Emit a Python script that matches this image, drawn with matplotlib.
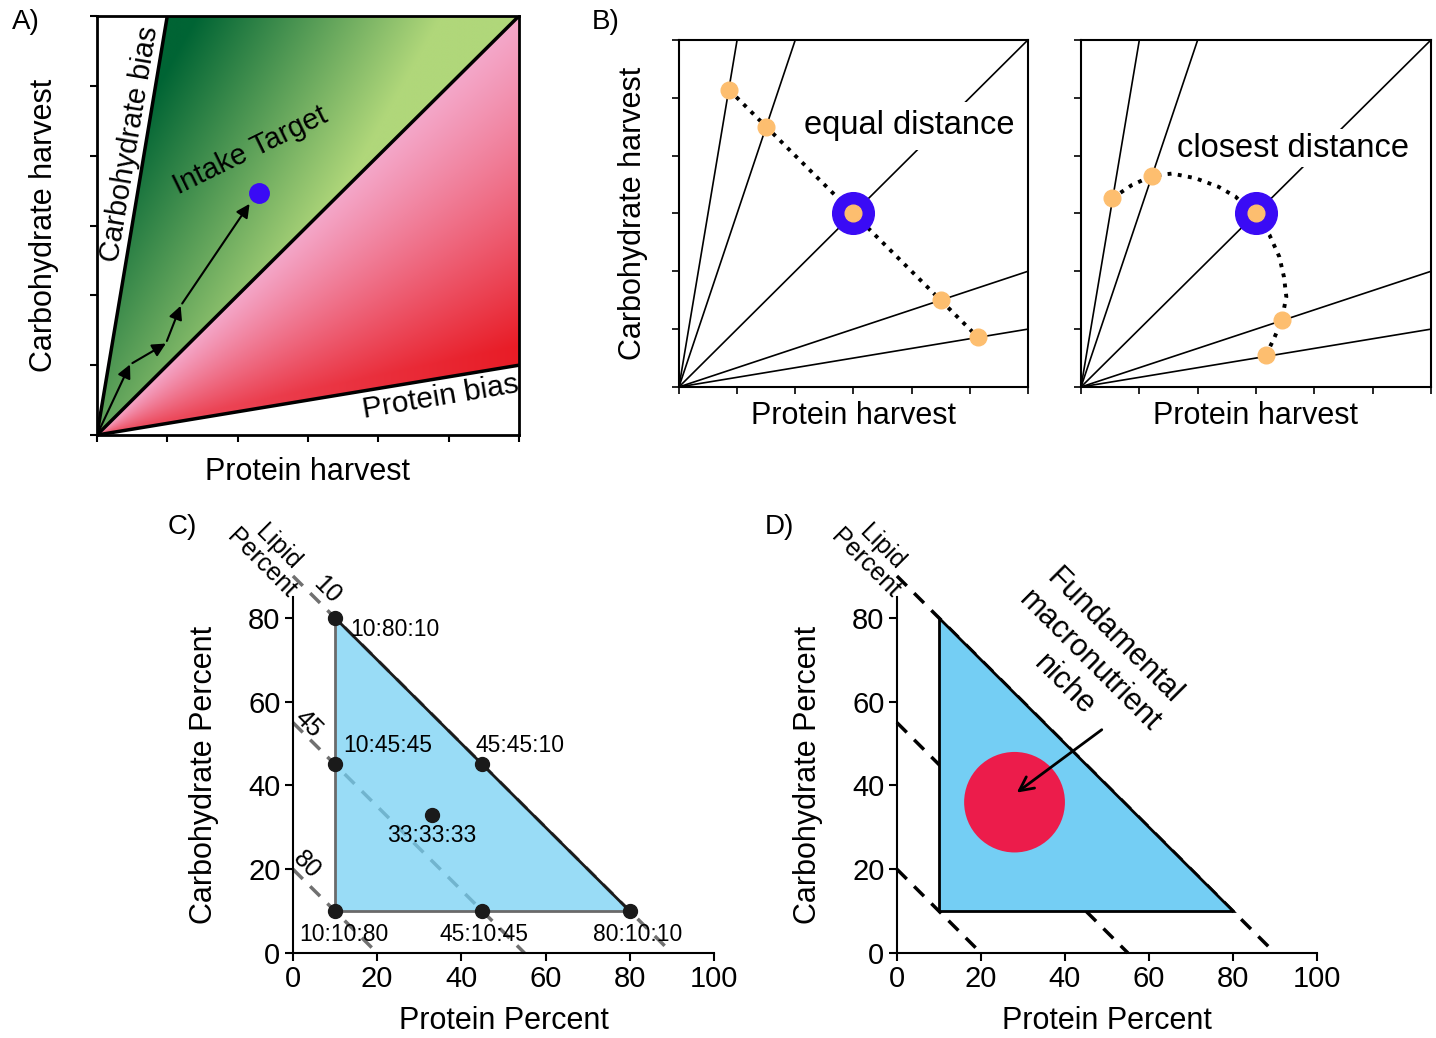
import numpy as np
import matplotlib.pyplot as plt
from matplotlib.patches import Polygon, Circle

plt.rcParams['font.family'] = ['Liberation Sans', 'DejaVu Sans']

# A) bias rails (slope carb/protein) and the stepwise path to the intake target
a_slopes = [6, 1, 1 / 6]
a_path_x = [0, 0.47, 0.98, 1.19, 2.17]
a_path_y = [0, 1.01, 1.31, 1.85, 3.31]
a_target_x, a_target_y = 2.3, 3.46

# B) nutritional rails and the points picked on them
b_slopes = [6, 3, 1, 1 / 3, 1 / 6]
b_target = (3, 3)
eq_x = [0.86, 1.5, 4.5, 5.14]
eq_y = [5.14, 4.5, 1.5, 0.86]
eq_line_x = [0.86, 5.14]
eq_line_y = [5.14, 0.86]
cl_x = [0.53, 1.22, 3.44, 3.17]
cl_y = [3.26, 3.65, 1.15, 0.55]
cl_arc_x = [0.53, 0.87, 1.22, 1.56, 1.96, 2.36, 2.65, 2.97, 3.23, 3.40, 3.48, 3.52, 3.44, 3.31, 3.17]
cl_arc_y = [3.26, 3.49, 3.65, 3.69, 3.61, 3.46, 3.29, 2.97, 2.63, 2.25, 1.90, 1.56, 1.15, 0.84, 0.55]

# C) / D) diet space (protein %, carbohydrate %), lipid = remainder
tri_p = [10, 10, 80]
tri_c = [80, 10, 10]
diet_p = [10, 10, 45, 33, 10, 45, 80]
diet_c = [80, 45, 45, 33, 10, 10, 10]
diet_lab = ['10:80:10', '10:45:45', '45:45:10', '33:33:33', '10:10:80', '45:10:45', '80:10:10']
lipid_levels = [10, 45, 80]
niche_p, niche_c, niche_r = 28, 36, 12

fig = plt.figure(figsize=(14.36, 10.38), dpi=100)

# ---------------- A ----------------
axA = fig.add_axes([0.0675, 0.5809, 0.2939, 0.4037])
n = 600
gx, gy = np.meshgrid(np.linspace(0, 6, n), np.linspace(0, 6, n))
img = np.zeros((n, n, 4))
dark_g, light_g = np.array([0, 100, 52]) / 255, np.array([176, 215, 122]) / 255
pink, red = np.array([244, 168, 202]) / 255, np.array([232, 28, 38]) / 255
green = (gy >= gx) & (gy <= 6 * gx)
tg = np.clip(0.2875 * gx - 0.16 * gy + 0.552, 0, 1)[..., None]
pinkreg = (gy < gx) & (gy >= gx / 6)
ang = np.degrees(np.arctan2(gy, gx + 1e-9))
tp = np.clip((45 - ang) / 33, 0, 1) * (0.6 + 0.4 * gx / 6)
tp = np.clip(tp, 0, 1)[..., None]
gcol = dark_g + (light_g - dark_g) * tg
pcol = pink + (red - pink) * tp
img[..., :3] = np.where(green[..., None], gcol, pcol)
img[..., 3] = (green | pinkreg).astype(float)
axA.imshow(img, extent=[0, 6, 0, 6], origin='lower', aspect='auto', zorder=0)

for s in a_slopes:
    xe = min(6, 6 / s)
    axA.plot([0, xe], [0, s * xe], color='k', lw=2.5, zorder=2)
for i in range(len(a_path_x) - 1):
    axA.annotate('', xy=(a_path_x[i + 1], a_path_y[i + 1]), xytext=(a_path_x[i], a_path_y[i]),
                 arrowprops=dict(arrowstyle='-|>', color='k', lw=1.5, mutation_scale=20,
                                 shrinkA=2, shrinkB=0), zorder=3)
axA.plot(a_target_x, a_target_y, 'o', color='#3A0BF5', ms=14, zorder=4)
axA.text(0.47, 4.17, 'Carbohydrate bias', rotation=80.5, ha='center', va='center',
         rotation_mode='anchor', fontsize=21)
axA.text(2.18, 4.07, 'Intake Target', rotation=26, ha='center', va='center',
         rotation_mode='anchor', fontsize=21)
axA.text(4.88, 0.55, 'Protein bias', rotation=9.5, ha='center', va='center',
         rotation_mode='anchor', fontsize=21.5)
axA.set_xlim(0, 6)
axA.set_ylim(0, 6)
axA.set_xticks(range(7))
axA.set_yticks(range(7))
axA.tick_params(direction='out', length=5, width=1.5, labelbottom=False, labelleft=False)
for sp in axA.spines.values():
    sp.set_linewidth(2)
axA.set_xlabel('Protein harvest', fontsize=22, labelpad=11)
axA.set_ylabel('Carbohydrate harvest', fontsize=22, labelpad=22)
fig.text(0.018, 0.979, 'A)', fontsize=20, ha='center', va='center')

# ---------------- B ----------------
def rails(ax):
    for s in b_slopes:
        xe = min(6, 6 / s)
        ax.plot([0, xe], [0, s * xe], color='k', lw=1.2, zorder=1)
    ax.set_xlim(0, 6)
    ax.set_ylim(0, 6)
    ax.set_xticks(range(7))
    ax.set_yticks(range(7))
    ax.tick_params(direction='out', length=5, width=1.2, labelbottom=False, labelleft=False)
    for sp in ax.spines.values():
        sp.set_linewidth(1.5)
    ax.set_xlabel('Protein harvest', fontsize=22, labelpad=5)

axB1 = fig.add_axes([0.4728, 0.6272, 0.2430, 0.3343])
rails(axB1)
axB1.plot(eq_line_x, eq_line_y, ':', color='k', lw=2.8, zorder=3)
axB1.plot(eq_x, eq_y, 'o', color='#FDBE6F', ms=12, zorder=4)
axB1.plot(*b_target, 'o', color='#3A0BF5', ms=30, zorder=4)
axB1.plot(*b_target, 'o', color='#FDBE6F', ms=12, zorder=5)
axB1.text(3.96, 4.52, 'equal distance', fontsize=23.5, ha='center', va='center', zorder=2,
          bbox=dict(facecolor='white', edgecolor='none', pad=6))
axB1.set_ylabel('Carbohydrate harvest', fontsize=22, labelpad=17)

axB2 = fig.add_axes([0.7528, 0.6272, 0.2437, 0.3343])
rails(axB2)
axB2.plot(cl_arc_x, cl_arc_y, ':', color='k', lw=2.8, zorder=3)
axB2.plot(cl_x, cl_y, 'o', color='#FDBE6F', ms=12, zorder=4)
axB2.plot(*b_target, 'o', color='#3A0BF5', ms=30, zorder=4)
axB2.plot(*b_target, 'o', color='#FDBE6F', ms=12, zorder=5)
axB2.text(3.64, 4.13, 'closest distance', fontsize=23.5, ha='center', va='center', zorder=2,
          bbox=dict(facecolor='white', edgecolor='none', pad=2.5))
fig.text(0.422, 0.979, 'B)', fontsize=20, ha='center', va='center')

# ---------------- C / D ----------------
def diet_axes(ax, dash_col):
    for L in lipid_levels:
        ax.plot([0, 100 - L], [100 - L, 0], '--', color=dash_col, lw=2.5,
                dashes=(4, 3), zorder=1, clip_on=False)
    ax.set_xlim(0, 100)
    ax.set_ylim(0, 85)
    ax.set_xticks(range(0, 101, 20))
    ax.set_yticks(range(0, 81, 20))
    ax.spines[['top', 'right']].set_visible(False)
    for sp in ('left', 'bottom'):
        ax.spines[sp].set_linewidth(1.5)
    ax.tick_params(direction='out', length=6, width=1.5, labelsize=21, pad=3)
    ax.set_xlabel('Protein Percent', fontsize=22, labelpad=9)
    ax.set_ylabel('Carbohydrate Percent', fontsize=22, labelpad=21)
    ax.text(-5.5, 95, 'Lipid\nPercent', rotation=-45, ha='center', va='center',
            rotation_mode='anchor', fontsize=18, linespacing=1.0, clip_on=False)

axC = fig.add_axes([0.2040, 0.0819, 0.2932, 0.3430])
diet_axes(axC, '#707070')
axC.add_patch(Polygon(np.column_stack([tri_p, tri_c]), closed=True, facecolor='#72CFF3',
                      edgecolor='none', alpha=0.72, zorder=2))
axC.plot(tri_p[:2], tri_c[:2], color='#6A6A6A', lw=2, zorder=3)
axC.plot(tri_p[1:], tri_c[1:], color='#6A6A6A', lw=2, zorder=3)
axC.plot([tri_p[0], tri_p[2]], [tri_c[0], tri_c[2]], color='#1A1A1A', lw=2, zorder=3)
axC.plot(diet_p, diet_c, 'o', color='#1A1A1A', ms=10, zorder=4)
lab_off = [(11, -8, 'left'), (6, 14, 'left'), (-5, 14, 'left'), (0, -15, 'center'),
           (6, -17, 'center'), (1, -17, 'center'), (6, -17, 'center')]
for p, c, t, (dx, dy, ha) in zip(diet_p, diet_c, diet_lab, lab_off):
    axC.annotate(t, (p, c), xytext=(dx, dy), textcoords='offset points', ha=ha,
                 va='center', fontsize=16.5, zorder=5)
lip_lab_xy = [(8.0, 86.6), (3.6, 54.7), (3.2, 21.0)]
for L, (lx, ly) in zip(lipid_levels, lip_lab_xy):
    axC.text(lx, ly, str(L), rotation=-45, ha='center', va='center', fontsize=18,
             rotation_mode='anchor', clip_on=False)
fig.text(0.127, 0.492, 'C)', fontsize=20, ha='center', va='center')

axD = fig.add_axes([0.6246, 0.0819, 0.2925, 0.3430])
diet_axes(axD, 'k')
axD.add_patch(Polygon(np.column_stack([tri_p, tri_c]), closed=True, facecolor='#74CEF4',
                      edgecolor='k', lw=2, zorder=2))
axD.add_patch(Circle((niche_p, niche_c), niche_r, facecolor='#EC1C4B', edgecolor='none', zorder=3))
axD.annotate('', xy=(28, 37.9), xytext=(49.3, 53.7),
             arrowprops=dict(arrowstyle='->', color='k', lw=2, mutation_scale=25), zorder=4)
axD.text(45.8, 69.7, 'Fundamental\nmacronutrient\nniche', rotation=-45, ha='center',
         va='center', rotation_mode='anchor', fontsize=22, multialignment='center')
fig.text(0.5425, 0.492, 'D)', fontsize=20, ha='center', va='center')

fig.savefig('out.png', dpi=100)
